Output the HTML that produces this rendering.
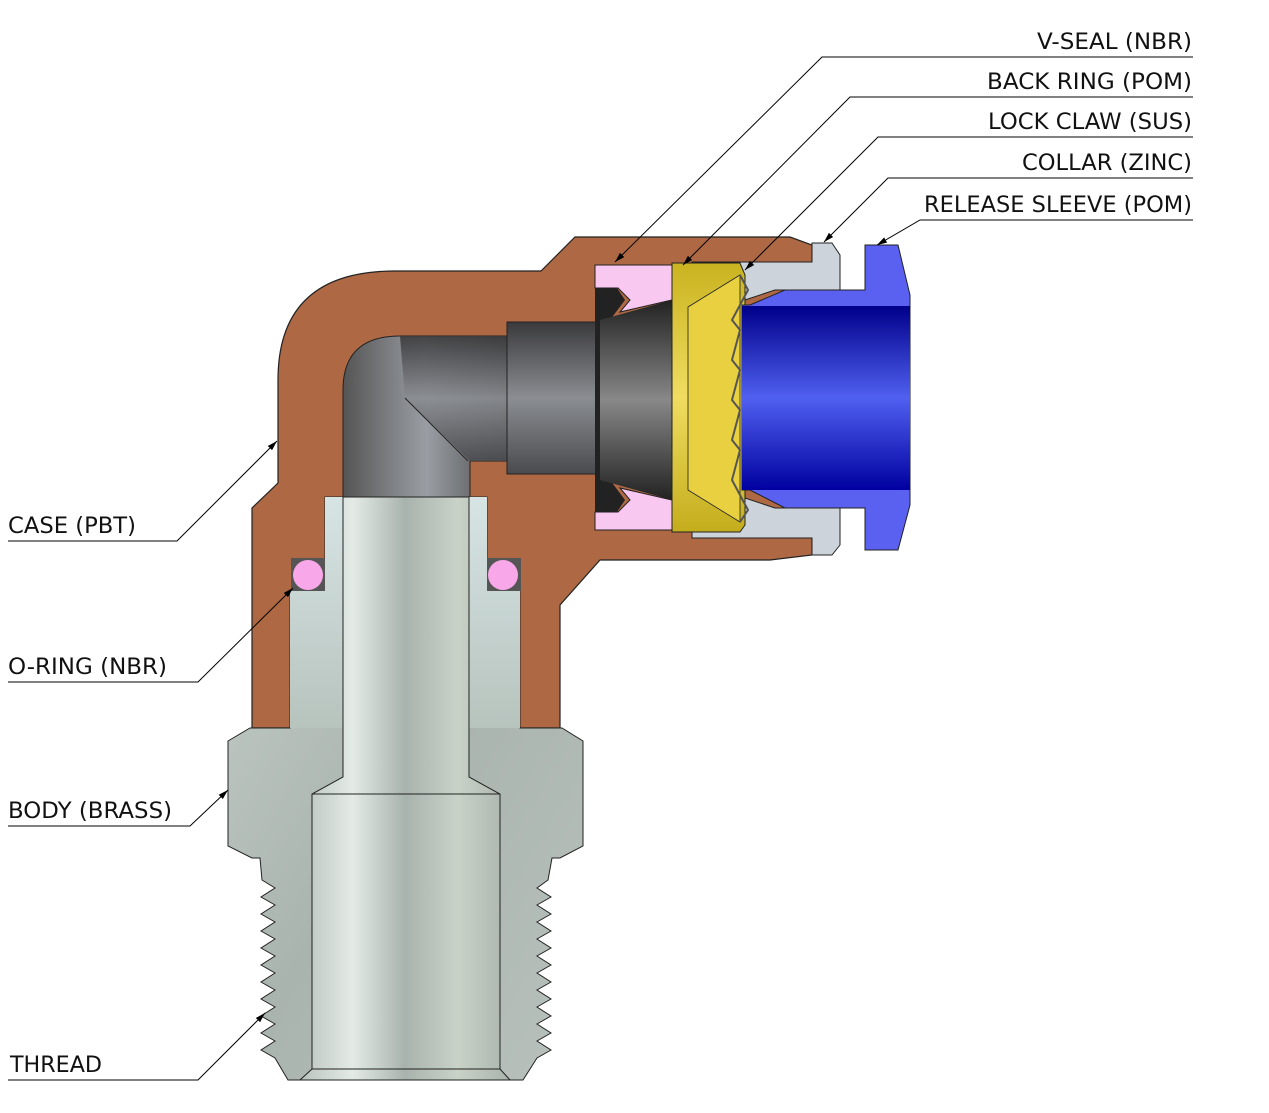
<!DOCTYPE html>
<html><head><meta charset="utf-8"><style>
html,body{margin:0;padding:0;background:#fff;}
svg{display:block;}
text{font-family:"DejaVu Sans","Liberation Sans",sans-serif;font-size:22px;fill:#111;}
</style></head><body>
<svg width="1269" height="1113" viewBox="0 0 1269 1113" xmlns="http://www.w3.org/2000/svg">
<defs>
<linearGradient id="steel" x1="0" x2="1" y1="0" y2="0">
<stop offset="0" stop-color="#b9c2bd"/><stop offset="0.25" stop-color="#e4ebe7"/><stop offset="0.5" stop-color="#a9b3ad"/><stop offset="0.75" stop-color="#c9d2c7"/><stop offset="1" stop-color="#aab3ad"/></linearGradient>
<linearGradient id="body" x1="0" x2="1" y1="0" y2="1">
<stop offset="0" stop-color="#c5cec9"/><stop offset="0.5" stop-color="#aab4ae"/><stop offset="1" stop-color="#b8c1bb"/></linearGradient>
<linearGradient id="neck" x1="0" x2="0" y1="0" y2="1">
<stop offset="0" stop-color="#d6e4e4"/><stop offset="1" stop-color="#b7c3bd"/></linearGradient>
<linearGradient id="dark" x1="0" x2="0" y1="0" y2="1">
<stop offset="0" stop-color="#3a3a3c"/><stop offset="0.5" stop-color="#8a8d92"/><stop offset="1" stop-color="#4a4b4e"/></linearGradient>
<linearGradient id="darkv" x1="0" x2="1" y1="0" y2="0">
<stop offset="0" stop-color="#555"/><stop offset="0.5" stop-color="#9a9ea4"/><stop offset="1" stop-color="#444"/></linearGradient>
<linearGradient id="blue" x1="0" x2="0" y1="0" y2="1">
<stop offset="0" stop-color="#00008a"/><stop offset="0.5" stop-color="#5060f0"/><stop offset="1" stop-color="#0000a0"/></linearGradient>
<linearGradient id="gold" x1="0" x2="0" y1="0" y2="1">
<stop offset="0" stop-color="#c9b320"/><stop offset="0.5" stop-color="#f0dc60"/><stop offset="1" stop-color="#c4ad1c"/></linearGradient>
<linearGradient id="vseal" x1="0" x2="0" y1="0" y2="1">
<stop offset="0" stop-color="#222"/><stop offset="0.5" stop-color="#888"/><stop offset="1" stop-color="#222"/></linearGradient>
<marker id="ar" markerWidth="10" markerHeight="6" refX="10" refY="3" orient="auto" markerUnits="userSpaceOnUse"><path d="M0,0 L10,3 L0,6 Z" fill="#000"/></marker>
</defs>

<path d="M252,728 L252,508 L278,483 L278,380 Q278,271 395,271 L541,271 L575,237 L790,237 L812,245 L812,555 L770,560 L600,560 L560,605 L560,728 Z" fill="#ae6944" stroke="#222" stroke-width="1.2"/>

<path d="M343,497 L343,390 Q343,336 400,336 L510,336 L510,461 L470,461 L470,497 Z" fill="url(#darkv)" stroke="#222" stroke-width="1"/>
<path d="M400,336 L510,336 L510,461 L470,461 L405,398 Z" fill="url(#dark)" opacity="0.9"/>
<line x1="405" y1="398" x2="468" y2="461" stroke="#222" stroke-width="1"/>
<rect x="507" y="322" width="90" height="152" fill="url(#dark)" stroke="#222" stroke-width="1"/>

<path d="M595,285 L615,285 L625,300 L610,320 L600,320 L600,480 L610,480 L625,500 L615,515 L595,515 Z" fill="#222"/>
<path d="M600,320 L672,300 L672,500 L600,480 Z" fill="url(#vseal)"/>
<path d="M595,265 L672,265 L672,300 L620,312 L630,300 L618,288 L595,288 Z" fill="#f8c8f0" stroke="#222" stroke-width="1"/>
<path d="M595,530 L672,530 L672,500 L620,488 L630,500 L618,512 L595,512 Z" fill="#f8c8f0" stroke="#222" stroke-width="1"/>

<path d="M692,262 L812,262 L812,243 L832,243 L840,255 L840,290 L775,290 L745,300 L692,300 Z" fill="#cdd3da" stroke="#222" stroke-width="1"/>
<path d="M692,538 L812,538 L812,555 L832,555 L840,545 L840,508 L775,508 L745,498 L692,498 Z" fill="#cdd3da" stroke="#222" stroke-width="1"/>

<path d="M672,263 L740,263 L745,275 L745,525 L740,532 L672,532 Z" fill="url(#gold)" stroke="#222" stroke-width="1"/>
<path d="M688,307 L740,275 L740,522 L688,490 Z" fill="#e8d040" stroke="#222" stroke-width="0.8"/>
<path d="M740,275 L748,290 L732,320 L740,330 L732,360 L740,370 L732,400 L740,410 L732,440 L740,450 L732,480 L748,510 L740,522" fill="none" stroke="#555" stroke-width="2"/>

<path d="M865,245 L898,245 L910,295 L910,505 L898,550 L865,550 L865,508 L785,508 L750,490 L742,490 L742,305 L750,305 L785,290 L865,290 Z" fill="#5a60f0" stroke="#222" stroke-width="1"/>
<rect x="742" y="306" width="168" height="184" fill="url(#blue)"/>

<path d="M228,741 L250,728 L290,728 L290,590 L325,590 L325,497 L487,497 L487,590 L520,590 L520,728 L562,728 L583,741 L583,846 L560,858 L552,858 L548,880
L537,888 L551,897 L537,905 L551,914 L537,922 L551,931 L537,939 L551,948 L537,956 L551,965 L537,973 L551,982 L537,990 L551,999 L537,1007 L551,1016 L537,1024 L551,1033 L537,1041 L551,1050 L537,1058 L523,1080 L288,1080 L275,1058
L261,1050 L275,1041 L261,1033 L275,1024 L261,1016 L275,1007 L261,999 L275,990 L261,982 L275,973 L261,965 L275,956 L261,948 L275,939 L261,931 L275,922 L261,914 L275,905 L261,897 L275,888 L262,880 L260,858 L252,858 L228,846 Z" fill="url(#body)" stroke="#222" stroke-width="1"/>
<path d="M325,497 L487,497 L487,590 L520,590 L520,728 L290,728 L290,590 L325,590 Z" fill="url(#neck)"/>
<rect x="291" y="558" width="34" height="33" fill="#555"/>
<rect x="487" y="558" width="34" height="33" fill="#555"/>
<circle cx="308" cy="575" r="15" fill="#f8a8e8"/>
<circle cx="503" cy="575" r="15" fill="#f8a8e8"/>
<path d="M343,497 L469,497 L469,777 L500,794 L500,1069 L510,1080 L300,1080 L312,1069 L312,794 L343,777 Z" fill="url(#steel)" stroke="#222" stroke-width="1"/>
<line x1="312" y1="794" x2="500" y2="794" stroke="#222"/>
<line x1="312" y1="1069" x2="500" y2="1069" stroke="#222"/>

<g stroke="#000" stroke-width="1" fill="none">
<polyline points="1193,57 822,57 615,262" marker-end="url(#ar)"/>
<polyline points="1193,97 850,97 683,265" marker-end="url(#ar)"/>
<polyline points="1193,137 878,137 745,270" marker-end="url(#ar)"/>
<polyline points="1193,178 888,178 824,242" marker-end="url(#ar)"/>
<polyline points="1193,220 920,220 877,245" marker-end="url(#ar)"/>
<polyline points="8,541 177,541 277,441" marker-end="url(#ar)"/>
<polyline points="8,682 198,682 293,588" marker-end="url(#ar)"/>
<polyline points="8,826 190,826 228,790" marker-end="url(#ar)"/>
<polyline points="8,1080 198,1080 265,1013" marker-end="url(#ar)"/>
</g>
<g>
<text x="1192" y="49" text-anchor="end" textLength="155" lengthAdjust="spacingAndGlyphs">V-SEAL (NBR)</text>
<text x="1192" y="89" text-anchor="end" textLength="205" lengthAdjust="spacingAndGlyphs">BACK RING (POM)</text>
<text x="1192" y="129" text-anchor="end" textLength="204" lengthAdjust="spacingAndGlyphs">LOCK CLAW (SUS)</text>
<text x="1192" y="170" text-anchor="end" textLength="170" lengthAdjust="spacingAndGlyphs">COLLAR (ZINC)</text>
<text x="1192" y="212" text-anchor="end" textLength="268" lengthAdjust="spacingAndGlyphs">RELEASE SLEEVE (POM)</text>
<text x="8" y="533" textLength="128" lengthAdjust="spacingAndGlyphs">CASE (PBT)</text>
<text x="8" y="674" textLength="159" lengthAdjust="spacingAndGlyphs">O-RING (NBR)</text>
<text x="8" y="818" textLength="164" lengthAdjust="spacingAndGlyphs">BODY (BRASS)</text>
<text x="10" y="1072" textLength="92" lengthAdjust="spacingAndGlyphs">THREAD</text>
</g>
</svg>
</body></html>
